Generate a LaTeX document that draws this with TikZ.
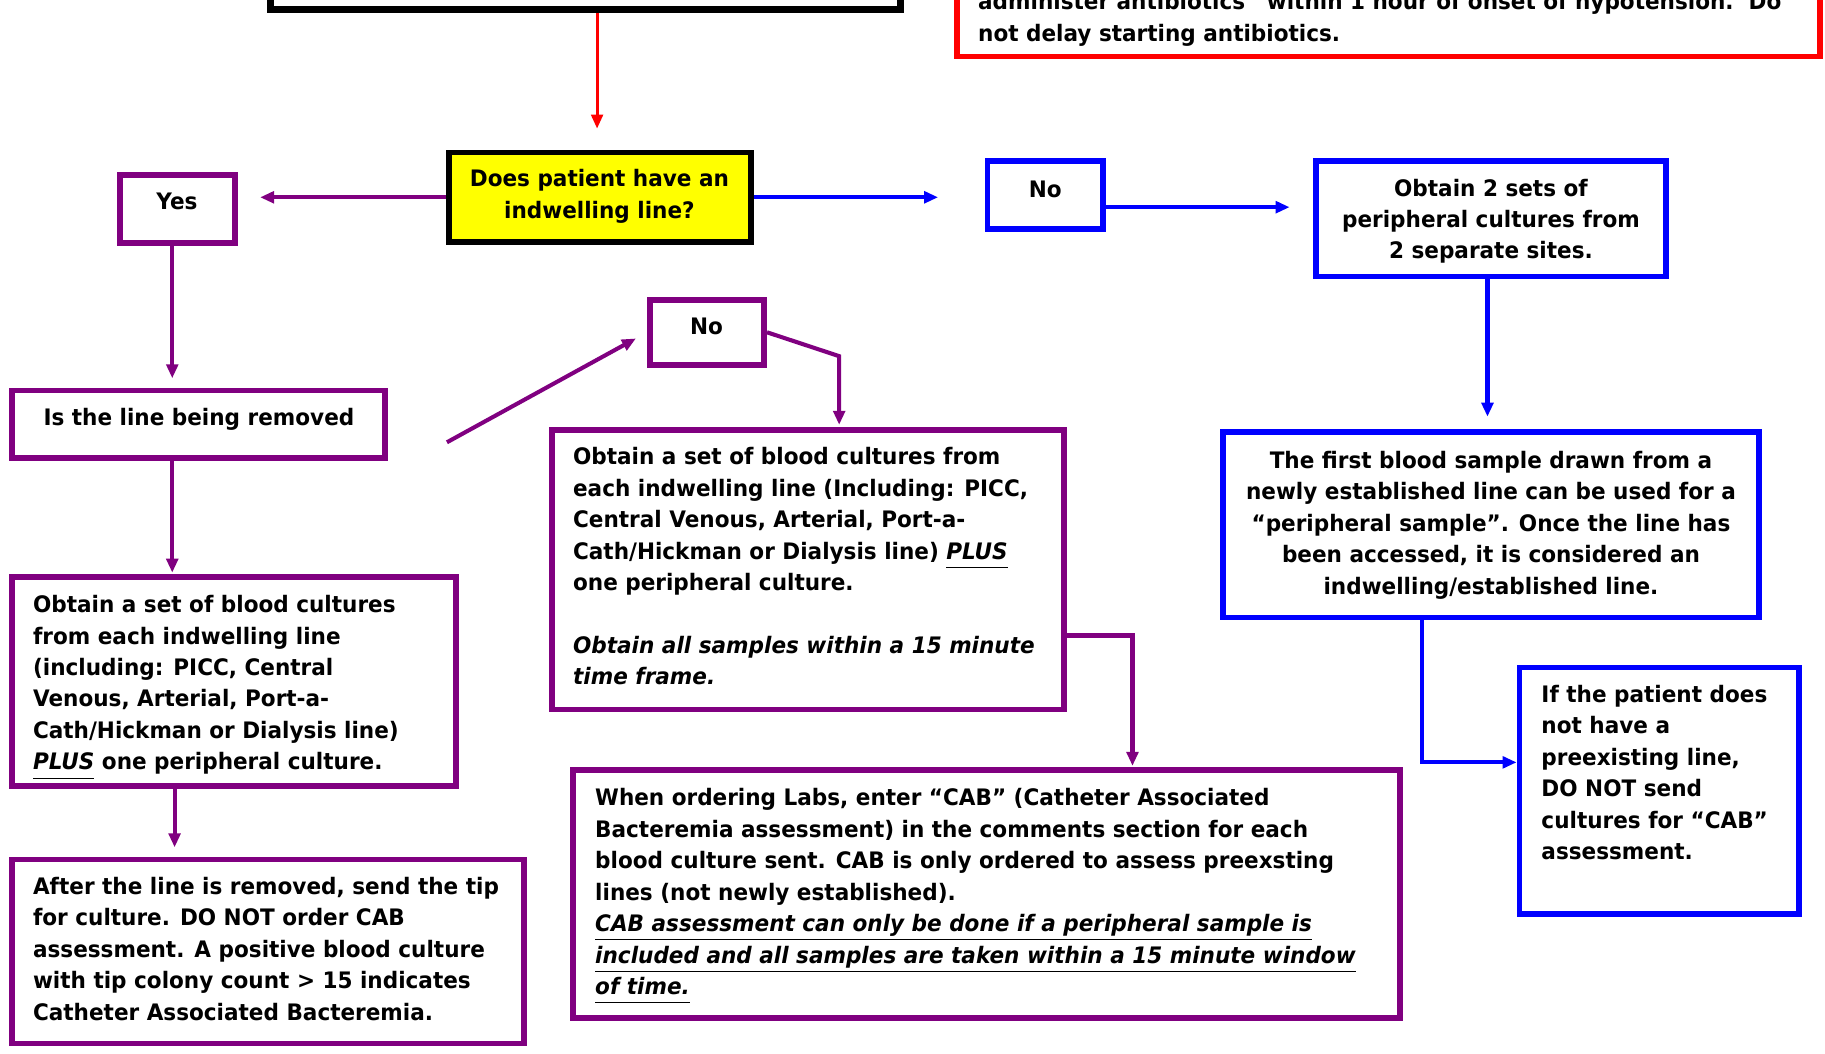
\documentclass[tikz,border=0pt]{standalone}
\usepackage{fontspec}
\setmainfont{DejaVu Sans}[FakeStretch=0.95]
\usetikzlibrary{arrows.meta,calc}
\definecolor{pur}{RGB}{128,0,128}
\definecolor{blu}{RGB}{0,0,255}
\definecolor{rd}{RGB}{255,0,0}
\definecolor{yel}{RGB}{255,255,0}
\newcommand\ulx[1]{\underline{\vphantom{gy}#1}}
\begin{document}
\begin{tikzpicture}[x=0.5pt,y=-0.5pt,
  box/.style={draw, line width=2.5pt, rectangle, inner sep=0pt, fill=white},
  pbox/.style={box, draw=pur},
  bbox/.style={box, draw=blu},
  txt/.style={inner sep=0pt, font=\bfseries\fontsize{9.75}{13.5}\selectfont, yshift=9.45pt},
  tl/.style={txt, anchor=north west, align=left},
  tc/.style={txt, anchor=north, align=center},
  conn/.style={line width=1.75pt, -{Triangle[length=6pt,width=5pt]}},
  pconn/.style={conn, draw=pur},
  bconn/.style={conn, draw=blu},
  rconn/.style={conn, line width=1.3pt, draw=rd},
]
\useasboundingbox (0,0) rectangle (1568,905);
\clip (0,0) rectangle (1568,905);
\fill[white] (0,0) rectangle (1568,905);

% boxes
\node[box, draw=black, line width=3pt, minimum width=271pt, minimum height=34pt] (top) at (503,-26) {};
\node[box, draw=rd, minimum width=370.5pt, minimum height=54.25pt] (red) at (1193,-5.75) {};
\node[box, draw=black, fill=yel, minimum width=129.5pt, minimum height=38.5pt] (yellow) at (515.5,169.5) {};
\node[pbox, minimum width=49.5pt, minimum height=29pt] (yes) at (152.5,179.5) {};
\node[pbox, minimum width=160pt, minimum height=29pt] (isline) at (170.5,364.5) {};
\node[pbox, minimum width=49pt, minimum height=28pt] (noP) at (607.5,285.5) {};
\node[pbox, minimum width=220pt, minimum height=120pt] (mid) at (694.5,489.5) {};
\node[pbox, minimum width=190.5pt, minimum height=90pt] (left) at (201,585.5) {};
\node[pbox, minimum width=220pt, minimum height=79pt] (botl) at (230.5,817.5) {};
\node[pbox, minimum width=355pt, minimum height=106.5pt] (cab) at (847.5,768) {};
\node[bbox, minimum width=49.5pt, minimum height=29pt] (noB) at (898,167.5) {};
\node[bbox, minimum width=150.5pt, minimum height=49.5pt] (obt2) at (1281,188) {};
\node[bbox, minimum width=230.5pt, minimum height=79.5pt] (first) at (1281,451) {};
\node[bbox, minimum width=120pt, minimum height=106pt] (ifp) at (1425.5,679.5) {};

% texts
\node[tl] (redT) at (840,8) {\strut administer antibiotics “within 1 hour of onset of hypotension.\ \ Do\\not delay starting antibiotics.};
\node[tc] (yellowT) at (515,160) {\strut Does patient have an\\indwelling line?};
\node[tc] (yesT) at (152,180) {\strut Yes};
\node[tl] (islineT) at (37,365) {\strut Is the line being removed};
\node[tc] (noPT) at (607,287) {\strut No};
\node[tl] (midT) at (492,399) {\strut Obtain a set of blood cultures from\\
each indwelling line (Including: PICC,\\
Central Venous, Arterial, Port-a-\\
Cath/Hickman or Dialysis line) \ulx{\textit{PLUS}}\\
one peripheral culture.\\[13.5pt]
\textit{Obtain all samples within a 15 minute}\\
\textit{time frame.}};
\node[tl] (leftT) at (28,526) {\strut Obtain a set of blood cultures\\
from each indwelling line\\
(including: PICC, Central\\
Venous, Arterial, Port-a-\\
Cath/Hickman or Dialysis line)\\
\ulx{\textit{PLUS}} one peripheral culture.};
\node[tl] (botlT) at (28,768) {\strut After the line is removed, send the tip\\
for culture. DO NOT order CAB\\
assessment. A positive blood culture\\
with tip colony count > 15 indicates\\
Catheter Associated Bacteremia.};
\node[tl] (cabT) at (511,692) {\strut When ordering Labs, enter “CAB” (Catheter Associated\\
Bacteremia assessment) in the comments section for each\\
blood culture sent. CAB is only ordered to assess preexsting\\
lines (not newly established).\\
\ulx{\textit{CAB assessment can only be done if a peripheral sample is}}\\
\ulx{\textit{included and all samples are taken within a 15 minute window}}\\
\ulx{\textit{of time.}}};
\node[tc] (noBT) at (898,169) {\strut No};
\node[tc] (obt2T) at (1281,168) {\strut Obtain 2 sets of\\peripheral cultures from\\2 separate sites.};
\node[tc] (firstT) at (1281,402) {\strut The first blood sample drawn from a\\newly established line can be used for a\\“peripheral sample”. Once the line has\\been accessed, it is considered an\\indwelling/established line.};
\node[tl] (ifpT) at (1324,603) {\strut If the patient does\\not have a\\preexisting line,\\DO NOT send\\cultures for “CAB”\\assessment.};

% connectors
\draw[rconn, shorten >=9pt] ($(top.south)+(10,0)$) -- ($(yellow.north)+(-2.5,0)$);
\draw[pconn, shorten >=9.5pt] (yellow.west) -- (yellow.west -| yes.east);
\coordinate (ya) at ($(yes.south)+(-4.5,0)$);
\draw[pconn, shorten >=4pt] (ya) -- (ya |- isline.north);
\coordinate (d0) at (384,380);
\draw[pconn, shorten >=5.5pt] (d0) -- (noP.west);
\coordinate (k1) at (721,306);
\draw[pconn, shorten >=1pt] (noP.east) -- (k1) -- (k1 |- mid.north);
\draw[pconn, shorten >=0.5pt] (isline.south -| ya) -- (ya |- left.north);
\coordinate (xb) at ($(left.south)+(-51,0)$);
\draw[pconn, shorten >=4pt] (xb) -- (xb |- botl.north);
\coordinate (k2) at (973,546);
\draw[pconn, shorten >=0.5pt] (mid.east |- k2) -- (k2) -- (k2 |- cab.north);
\draw[bconn, shorten >=20pt] (yellow.east) -- (yellow.east -| noB.west);
\coordinate (k3) at ($(noB.east)+(0,10.5)$);
\draw[bconn, shorten >=10pt] (k3) -- (k3 -| obt2.west);
\coordinate (k4) at ($(obt2.south)+(-3,0)$);
\draw[bconn, shorten >=5.5pt] (k4) -- (k4 |- first.north);
\coordinate (k5) at ($(first.south)+(-59,0)$);
\coordinate (k6) at (1222,655);
\draw[bconn] (k5) -- (k6) -- (k6 -| ifp.west);
\end{tikzpicture}
\end{document}
